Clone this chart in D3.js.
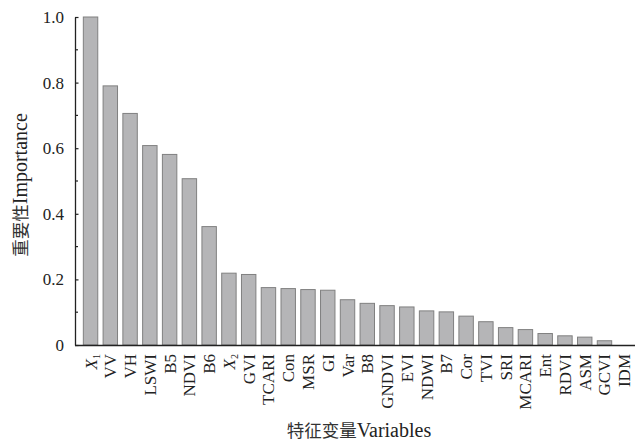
<!DOCTYPE html>
<html>
<head>
<meta charset="utf-8">
<script src="https://cdn.jsdelivr.net/npm/d3@7"></script>
<style>
  html, body { margin: 0; padding: 0; background: #fff; }
  svg { display: block; }
  text { font-family: "Liberation Serif", "Times New Roman", "Noto Sans CJK SC", serif; fill: #222; }
  .cjk { font-family: "Noto Sans CJK SC", sans-serif; fill: #333; }
</style>
</head>
<body>
<svg id="chart" width="642" height="441"></svg>
<script>
// Feature names (X1 / X2 are drawn as italic X with a subscript)
const categories = ["X1", "VV", "VH", "LSWI", "B5", "NDVI", "B6", "X2", "GVI", "TCARI",
  "Con", "MSR", "GI", "Var", "B8", "GNDVI", "EVI", "NDWI", "B7", "Cor",
  "TVI", "SRI", "MCARI", "Ent", "RDVI", "ASM", "GCVI", "IDM"];

// Relative importance of each feature
const importance = [1.000, 0.790, 0.706, 0.608, 0.581, 0.507, 0.361, 0.219, 0.215, 0.175,
  0.172, 0.169, 0.167, 0.138, 0.127, 0.120, 0.116, 0.104, 0.101, 0.088,
  0.071, 0.053, 0.047, 0.035, 0.028, 0.024, 0.013, 0.000];

const yTicks = [0, 0.2, 0.4, 0.6, 0.8, 1.0];
const yTickLabels = ["0", "0.2", "0.4", "0.6", "0.8", "1.0"];
const yMinorTicks = [0.1, 0.3, 0.5, 0.7, 0.9];

// Axis titles: Chinese part followed by English part
const xTitle = ["特征变量", "Variables"];
const yTitle = ["重要性", "Importance"];

const svg = d3.select("#chart");
const axisLeft = 75, axisRight = 635, yBottom = 345, yTop = 17;

const x = d3.scaleBand()
  .domain(categories)
  .range([77.4, 637.4])
  .paddingInner(0.27)
  .paddingOuter(0.3);

const y = d3.scaleLinear().domain([0, 1]).range([yBottom, yTop]);

// Bars
svg.append("g").selectAll("rect")
  .data(categories)
  .join("rect")
  .attr("x", d => x(d))
  .attr("width", x.bandwidth())
  .attr("y", (d, i) => y(importance[i]))
  .attr("height", (d, i) => y(0) - y(importance[i]))
  .attr("fill", "#b5b5b7")
  .attr("stroke", "#808080")
  .attr("stroke-width", 1);

// Y axis with inward ticks
const yAxis = svg.append("g").attr("transform", `translate(${axisLeft},0)`);
yAxis.call(d3.axisLeft(y)
  .tickValues(yTicks)
  .tickSizeInner(-3.5)
  .tickSizeOuter(0)
  .tickPadding(11)
  .tickFormat((d, i) => yTickLabels[i]));
yAxis.selectAll(".tick text")
  .style("font-family", "'Liberation Serif', serif")
  .style("font-size", "17px")
  .style("fill", "#222");
yAxis.selectAll(".tick line").attr("stroke", "#222").attr("stroke-width", 1.2);
yAxis.select(".domain").attr("stroke", "#222").attr("stroke-width", 1.3);

yAxis.selectAll(".minor")
  .data(yMinorTicks)
  .join("line")
  .attr("class", "minor")
  .attr("x1", 0).attr("x2", 3)
  .attr("y1", d => y(d)).attr("y2", d => y(d))
  .attr("stroke", "#222").attr("stroke-width", 1.2);

// X axis baseline
svg.append("line")
  .attr("x1", axisLeft).attr("x2", axisRight)
  .attr("y1", yBottom + 0.5).attr("y2", yBottom + 0.5)
  .attr("stroke", "#222").attr("stroke-width", 1.5);

// Category labels, rotated to read bottom-to-top
const labels = svg.append("g").selectAll("text")
  .data(categories)
  .join("text")
  .attr("transform", d => `translate(${x(d) + x.bandwidth() / 2 + 6},354) rotate(-90)`)
  .attr("text-anchor", "end")
  .style("font-size", "17px");

labels.each(function(d) {
  const t = d3.select(this);
  const m = d.match(/^X(\d)$/);
  if (m) {
    t.append("tspan").style("font-style", "italic").text("X");
    t.append("tspan").style("font-size", "10px").attr("dy", 3).text(m[1]);
  } else {
    t.text(d);
  }
});

// Axis titles
function title(sel, parts) {
  sel.append("tspan").attr("class", "cjk").style("font-size", "17.5px").text(parts[0]);
  sel.append("tspan").style("font-size", "20px").text(parts[1]);
}

svg.append("text")
  .attr("x", 359).attr("y", 437)
  .attr("text-anchor", "middle")
  .call(title, xTitle);

svg.append("text")
  .attr("transform", "translate(27,185) rotate(-90)")
  .attr("text-anchor", "middle")
  .call(title, yTitle);
</script>
</body>
</html>
